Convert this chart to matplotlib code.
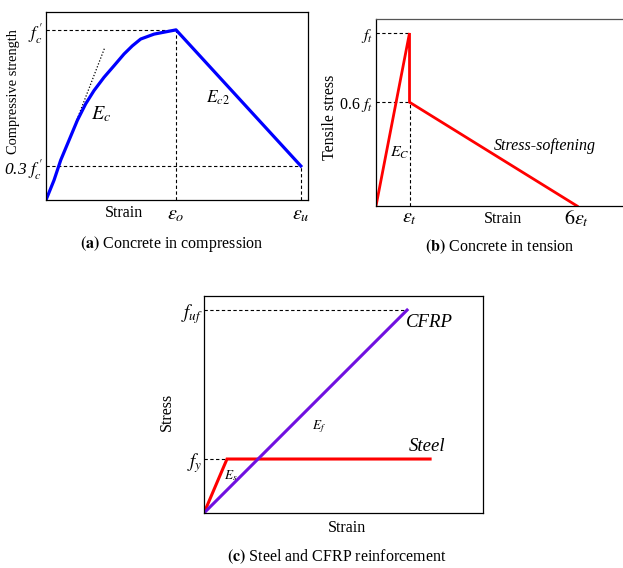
import matplotlib
matplotlib.use("Agg")
import matplotlib.pyplot as plt

plt.rcParams['font.family'] = ['Liberation Serif', 'DejaVu Serif']
plt.rcParams['mathtext.fontset'] = 'stix'

W, H = 623, 568

# ---------------- data ----------------
# (a) concrete in compression (strain normalised by eps_o, stress by f'c)
comp_strain = [0.0, 0.062, 0.113, 0.177, 0.241, 0.305, 0.369, 0.446, 0.523, 0.600,
               0.664, 0.728, 0.831, 1.0, 1.96]
comp_stress = [0.0, 0.117, 0.234, 0.351, 0.468, 0.565, 0.643, 0.721, 0.789, 0.858,
               0.906, 0.946, 0.975, 1.0, 0.2]
tangent_strain = [0.177, 0.452]
tangent_stress = [0.351, 0.896]
comp_xticks = [1.0, 1.96]
comp_xticklabels = [r'$\varepsilon_o$', r'$\varepsilon_u$']
comp_yticks = [1.0, 0.2]
comp_yticklabels = [r"$f^{\,\prime}_{c}$", r"0.3 $f^{\,\prime}_{c}$"]

# (b) concrete in tension (strain normalised by eps_t, stress by f_t)
ten_strain = [0.0, 1.0, 1.0, 6.0]
ten_stress = [0.0, 1.0, 0.6, 0.0]
ten_xticks = [1.0, 6.0]
ten_xticklabels = [r'$\varepsilon_t$', r'$6\varepsilon_t$']
ten_yticks = [1.0, 0.6]
ten_yticklabels = [r'$f_t$', r'0.6 $f_t$']

# (c) steel and CFRP
steel_strain = [0.0, 1.0, 9.83]
steel_stress = [0.0, 1.0, 1.0]
cfrp_strain = [0.0, 8.83]
cfrp_stress = [0.0, 3.76]
rein_yticks = [3.76, 1.0]
rein_yticklabels = [r'$f_{uf}$', r'$f_y$']

FS = 11.5
fig = plt.figure(figsize=(W / 100, H / 100), dpi=100)


def add_ax(x0, y0, x1, y1):
    return fig.add_axes([x0 / W, 1 - y1 / H, (x1 - x0) / W, (y1 - y0) / H])


def style(ax):
    for s in ax.spines.values():
        s.set_linewidth(0.9)
        s.set_color('black')
    ax.tick_params(length=0)


def ftext(x, y, s, **kw):
    fig.text(x / W, 1 - y / H, s, ha='center', va='center', **kw)


dash = dict(color='black', lw=0.8, linestyle=(0, (3, 2.2)))

# ---------------- (a) ----------------
axa = add_ax(46, 12, 308, 200)
style(axa)
axa.set_xlim(0, 2.015)
axa.set_ylim(0, 1.105)
axa.plot([0, 1.0], [1.0, 1.0], **dash)
axa.plot([1.0, 1.0], [0, 1.0], **dash)
axa.plot([0, 1.96], [0.2, 0.2], **dash)
axa.plot([1.96, 1.96], [0, 0.2], **dash)
axa.plot(tangent_strain, tangent_stress, color='black', lw=0.9, linestyle=(0, (1, 1.5)))
axa.plot(comp_strain, comp_stress, color='#0000ff', lw=2.3, solid_joinstyle='round')
axa.set_xticks(comp_xticks, comp_xticklabels, fontsize=FS + 3)
axa.set_yticks(comp_yticks, comp_yticklabels, fontsize=FS + 1)
axa.get_yticklabels()[1].set_fontstyle('italic')
axa.tick_params(axis='x', pad=4)
axa.tick_params(axis='y', pad=2)
axa.text(0.6, -0.075, 'Strain', fontsize=FS, ha='center', va='center')
axa.text(0.425, 0.505, r'$E_c$', fontsize=FS + 3, ha='center', va='center')
axa.text(1.32, 0.6, r'$E_{c2}$', fontsize=FS + 1, ha='center', va='center')
ftext(14, 92, 'Compressive strength', fontsize=10.4, rotation=90)
ftext(172, 244, r'$\mathbf{(a)}$ Concrete in compression', fontsize=FS)

# ---------------- (b) ----------------
axb = add_ax(376, 19, 624, 206)
style(axb)
axb.spines['right'].set_visible(False)
axb.spines['top'].set_color('#555555')
axb.set_xlim(0, 7.4)
axb.set_ylim(0, 1.081)
axb.plot([0, 1.0], [1.0, 1.0], **dash)
axb.plot([0, 1.0], [0.6, 0.6], **dash)
axb.plot([1.0, 1.0], [0, 0.6], **dash)
axb.plot(ten_strain, ten_stress, color='#ff0000', lw=2.0, solid_joinstyle='miter')
axb.set_xticks(ten_xticks, ten_xticklabels, fontsize=FS + 3)
axb.set_yticks(ten_yticks, ten_yticklabels, fontsize=FS)
axb.tick_params(axis='x', pad=2)
axb.tick_params(axis='y', pad=2)
ftext(503, 219, 'Strain', fontsize=FS)
ftext(330, 117, 'Tensile stress', fontsize=FS, rotation=90)
axb.text(5.04, 0.345, 'Stress-softening', fontsize=FS, style='italic',
         ha='center', va='center')
axb.text(0.72, 0.305, r'$E_C$', fontsize=FS, ha='center', va='center')
ftext(500, 247, r'$\mathbf{(b)}$ Concrete in tension', fontsize=FS)

# ---------------- (c) ----------------
axc = add_ax(204, 296, 483, 513)
style(axc)
axc.set_xlim(0, 12.13)
axc.set_ylim(0, 4.02)
axc.plot([0, 8.83], [3.76, 3.76], **dash)
axc.plot([0, 1.0], [1.0, 1.0], **dash)
axc.plot(steel_strain, steel_stress, color='#ff0000', lw=2.2, solid_joinstyle='miter')
axc.plot(cfrp_strain, cfrp_stress, color='#7010e0', lw=2.2)
axc.set_xticks([])
axc.set_yticks(rein_yticks, rein_yticklabels, fontsize=FS + 2)
axc.tick_params(axis='y', pad=1)
ftext(347, 528, 'Strain', fontsize=FS)
ftext(167, 412, 'Stress', fontsize=FS, rotation=90)
axc.text(9.8, 3.53, 'CFRP', fontsize=FS + 2, style='italic', ha='center', va='center')
axc.text(9.7, 1.24, 'Steel', fontsize=FS + 2, style='italic', ha='center', va='center')
axc.text(5.0, 1.6, r'$E_f$', fontsize=FS - 2, ha='center', va='center')
axc.text(1.15, 0.7, r'$E_s$', fontsize=FS - 2, ha='center', va='center')
ftext(337, 557, r'$\mathbf{(c)}$ Steel and CFRP reinforcement', fontsize=FS)

fig.savefig('out.png', dpi=100)
